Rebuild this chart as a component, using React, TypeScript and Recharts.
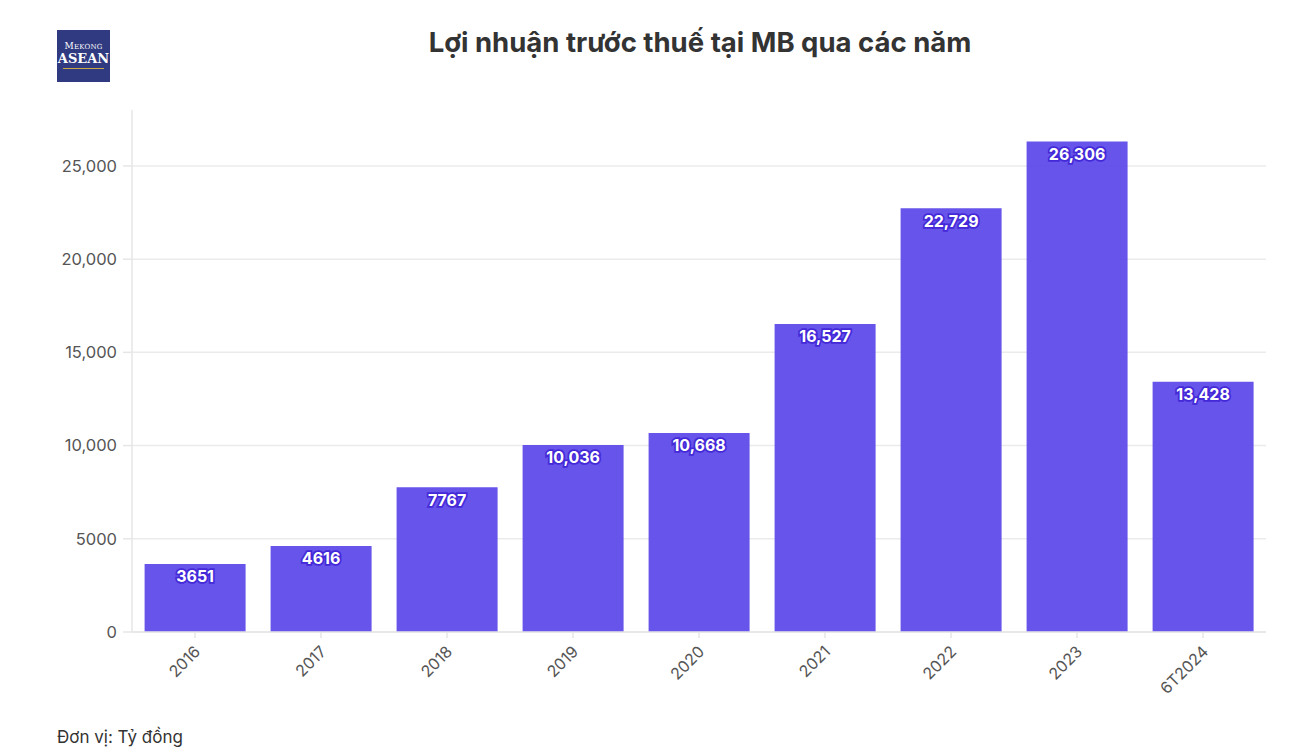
import React from 'react';
import { BarChart, Bar, XAxis, YAxis, CartesianGrid, LabelList } from 'recharts';

const years = ['2016', '2017', '2018', '2019', '2020', '2021', '2022', '2023', '6T2024'];
const profit = [3651, 4616, 7767, 10036, 10668, 16527, 22729, 26306, 13428];
const yTicks = [0, 5000, 10000, 15000, 20000, 25000];

const data = years.map((year, i) => ({ year, profit: profit[i] }));

// d3-style: 4-digit numbers without separator
const fmt = (v: number) => (Math.abs(v) >= 10000 ? v.toLocaleString('en-US') : String(v));

const FONT = 'Inter, "Open Sans", sans-serif';

const XTick = (props: any) => {
  const { x, y, payload } = props;
  return (
    <g transform={`translate(${x},${y + 12})`}>
      <text
        textAnchor="end"
        transform="rotate(-45)"
        dy={5}
        dx={4}
        fill="#555"
        fontSize={16}
        fontFamily={FONT}
      >
        {payload.value}
      </text>
    </g>
  );
};

const App: React.FC = () => {
  return (
    <div style={{ position: 'absolute', left: 0, top: 0, width: 1306, height: 754, background: '#fff', fontFamily: FONT }}>
      <div
        style={{
          position: 'absolute',
          left: 57,
          top: 30,
          width: 53,
          height: 52,
          background: '#2f3a80',
          color: '#fff',
          fontFamily: '"DejaVu Serif", serif',
          textAlign: 'center',
          lineHeight: 1,
        }}
      >
        <div style={{ fontSize: 9, marginTop: 12, letterSpacing: 0.2 }}>
          M<span style={{ fontSize: 7 }}>EKONG</span>
        </div>
        <div style={{ fontSize: 13, marginTop: 1, fontWeight: 700 }}>ASEAN</div>
        <div style={{ height: 1, background: '#c9a646', margin: '3px 6px 0' }} />
      </div>

      <div
        style={{
          position: 'absolute',
          left: 0,
          top: 25,
          width: 1400,
          textAlign: 'center',
          fontSize: 27.5,
          fontWeight: 700,
          color: '#333',
        }}
      >
        Lợi nhuận trước thuế tại MB qua các năm
      </div>

      <div style={{ position: 'absolute', left: 0, top: 0 }}>
        <BarChart
          width={1306}
          height={754}
          data={data}
          margin={{ top: 110, right: 40, bottom: 52, left: 72 }}
          barCategoryGap="10%"
        >
          <CartesianGrid vertical={false} syncWithTicks stroke="#ebebeb" strokeWidth={1.5} />
          <XAxis
            dataKey="year"
            height={70}
            interval={0}
            axisLine={{ stroke: '#e6e6e6', strokeWidth: 1.5 }}
            tickLine={{ stroke: '#e6e6e6', strokeWidth: 1.5 }}
            tickSize={6}
            tick={<XTick />}
          />
          <YAxis
            width={60}
            domain={[0, 28000]}
            ticks={yTicks}
            tickFormatter={fmt}
            axisLine={{ stroke: '#e6e6e6', strokeWidth: 1.5 }}
            tickLine={{ stroke: '#e6e6e6', strokeWidth: 1.5 }}
            tickSize={9}
            tickMargin={6}
            tick={{ fill: '#555', fontSize: 16.5, fontFamily: FONT }}
          />
          <Bar dataKey="profit" fill="#5a45e9" fillOpacity={0.92} isAnimationActive={false}>
            <LabelList
              dataKey="profit"
              position="insideTop"
              offset={7}
              formatter={(v: any) => fmt(Number(v))}
              fill="#fff"
              stroke="#4429d8"
              strokeWidth={3.5}
              style={{ paintOrder: 'stroke', fontWeight: 700, fontSize: 16, fontFamily: FONT }}
            />
          </Bar>
        </BarChart>
      </div>

      <div style={{ position: 'absolute', left: 57, top: 727, fontSize: 17, color: '#333' }}>Đơn vị: Tỷ đồng</div>
    </div>
  );
};

export default App;
